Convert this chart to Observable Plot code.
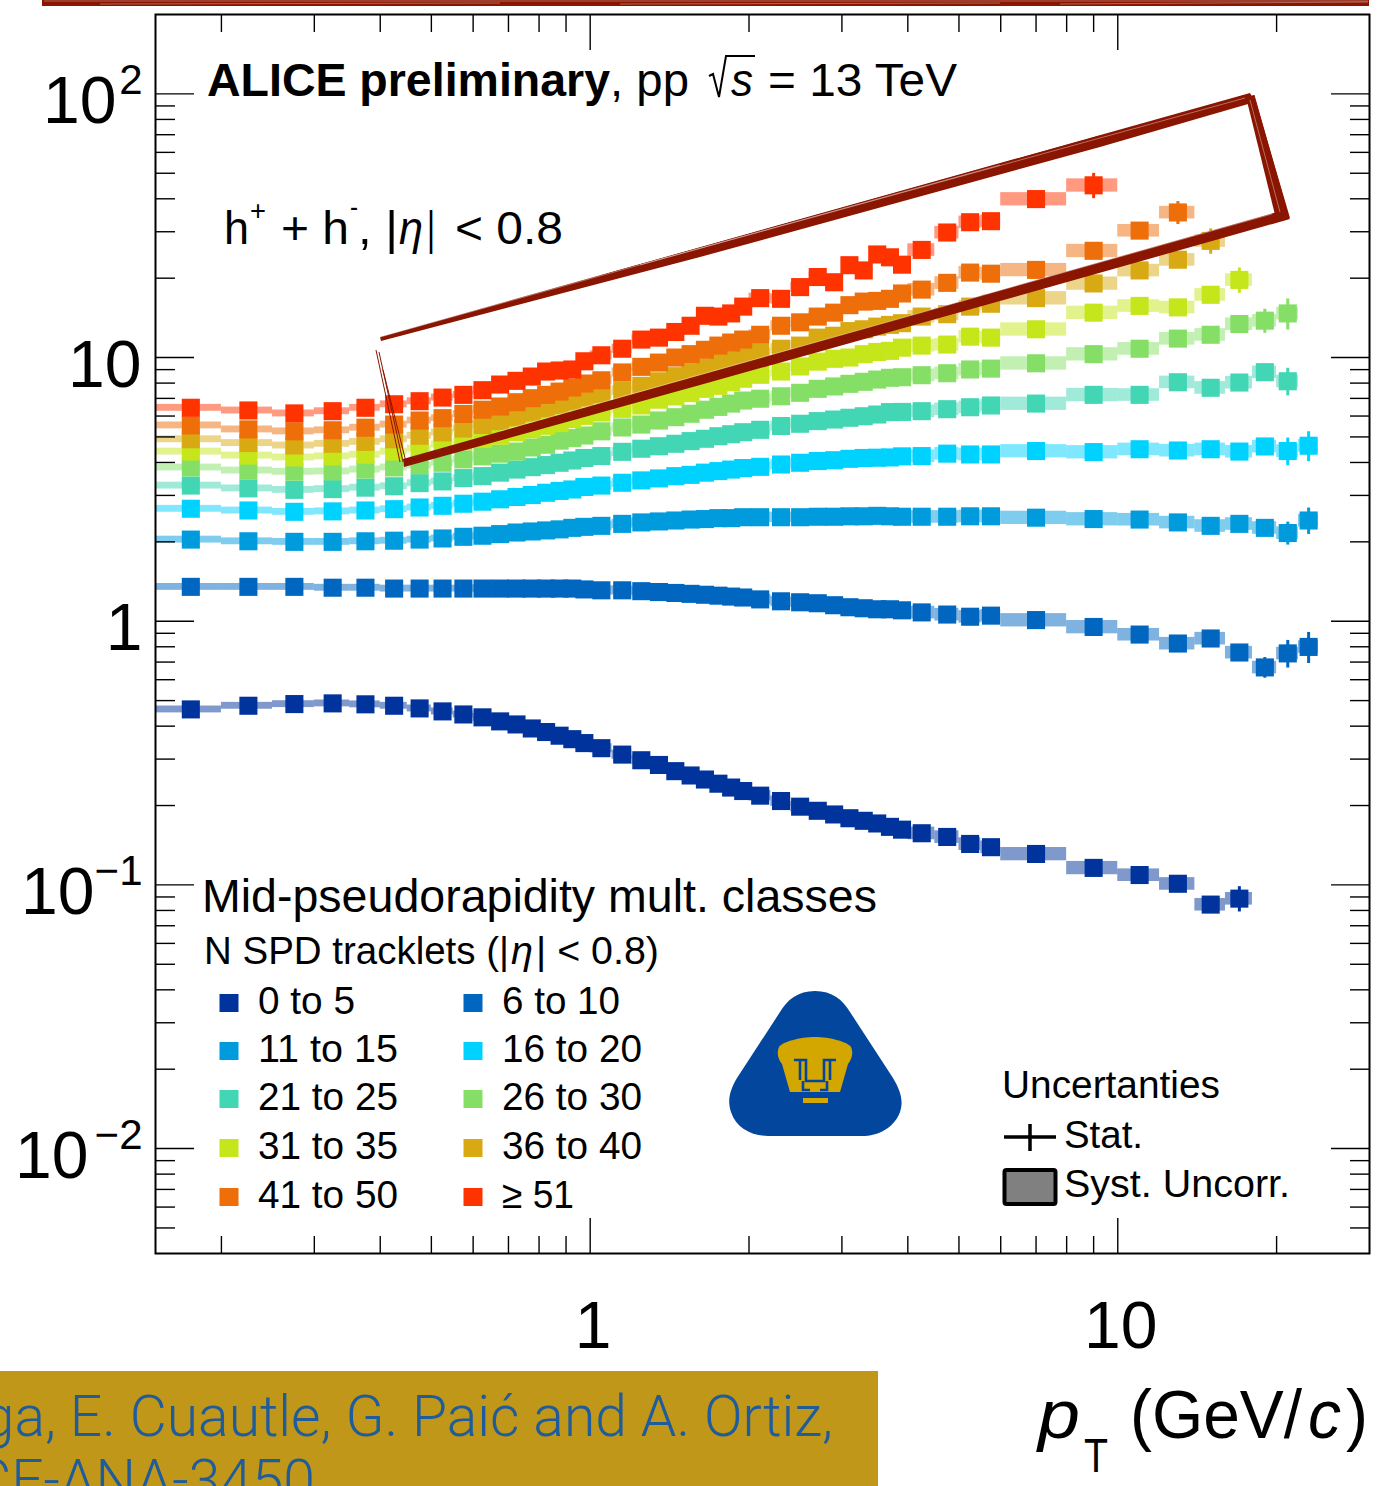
<!DOCTYPE html>
<html><head><meta charset="utf-8">
<style>html,body{margin:0;padding:0;background:#fff}svg{display:block}</style>
<script src="https://cdn.jsdelivr.net/npm/d3@7"></script>
<script src="https://cdn.jsdelivr.net/npm/@observablehq/plot@0.6"></script>
</head><body><div id="chart"></div>
<script>
// ---- data ----
const ptEdges = [0.15,0.2,0.25,0.3,0.35,0.4,0.45,0.5,0.55,0.6,0.65,0.7,0.75,0.8,0.85,0.9,0.95,1.0,1.1,1.2,1.3,1.4,1.5,1.6,1.7,1.8,1.9,2.0,2.2,2.4,2.6,2.8,3.0,3.2,3.4,3.6,3.8,4.0,4.5,5,5.5,6,8,10,12,14,16,18,20,22,24];
const ptCentres = [0.175,0.225,0.275,0.325,0.375,0.425,0.475,0.525,0.575,0.625,0.675,0.725,0.775,0.825,0.875,0.925,0.975,1.05,1.15,1.25,1.35,1.45,1.55,1.65,1.75,1.85,1.95,2.1,2.3,2.5,2.7,2.9,3.1,3.3,3.5,3.7,3.9,4.25,4.75,5.25,5.75,7,9,11,13,15,17,19,21,23];
const systFraction = [0.03,0.03,0.03,0.03,0.03,0.03,0.03,0.03,0.03,0.035,0.035,0.035,0.035,0.035,0.035,0.035,0.035,0.04,0.04,0.04,0.04,0.04,0.04,0.04,0.04,0.04,0.04,0.045,0.045,0.045,0.045,0.045,0.05,0.05,0.05,0.05,0.05,0.055,0.055,0.055,0.055,0.058,0.058,0.055,0.055,0.055,0.055,0.055,0.055,0.055];

const class0to5 = [0.463,0.478,0.485,0.488,0.484,0.478,0.467,0.455,0.443,0.432,0.417,0.406,0.392,0.380,0.368,0.357,0.345,0.330,0.312,0.297,0.285,0.270,0.260,0.251,0.242,0.234,0.227,0.218,0.208,0.198,0.191,0.185,0.179,0.175,0.171,0.166,0.162,0.157,0.152,0.143,0.139,0.131,0.116,0.109,0.101,0.0842,0.0887];
const class6to10 = [1.35,1.35,1.35,1.34,1.34,1.33,1.33,1.33,1.33,1.33,1.33,1.33,1.33,1.33,1.33,1.33,1.32,1.31,1.31,1.30,1.29,1.28,1.27,1.26,1.25,1.24,1.23,1.21,1.19,1.18,1.17,1.15,1.13,1.12,1.11,1.11,1.10,1.08,1.06,1.04,1.05,1.01,0.951,0.890,0.823,0.860,0.761,0.668,0.755,0.799];
const class11to15 = [2.04,2.01,2.00,2.00,2.01,2.02,2.04,2.06,2.09,2.11,2.14,2.17,2.19,2.21,2.23,2.26,2.28,2.30,2.34,2.37,2.39,2.41,2.43,2.44,2.46,2.46,2.48,2.48,2.48,2.48,2.49,2.49,2.50,2.50,2.51,2.50,2.49,2.49,2.49,2.50,2.50,2.47,2.44,2.43,2.37,2.30,2.34,2.26,2.16,2.41];
const class16to20 = [2.67,2.63,2.60,2.61,2.63,2.66,2.70,2.74,2.79,2.84,2.90,2.96,3.01,3.07,3.12,3.16,3.23,3.27,3.35,3.42,3.48,3.55,3.59,3.66,3.71,3.76,3.81,3.85,3.93,3.99,4.05,4.08,4.13,4.16,4.17,4.18,4.22,4.23,4.32,4.29,4.29,4.42,4.38,4.49,4.44,4.49,4.40,4.60,4.42,4.63];
const class21to25 = [3.27,3.19,3.15,3.17,3.21,3.25,3.34,3.39,3.49,3.55,3.66,3.76,3.84,3.91,3.99,4.07,4.16,4.23,4.39,4.51,4.61,4.71,4.82,4.92,5.03,5.12,5.21,5.32,5.50,5.61,5.74,5.82,5.91,5.99,6.08,6.21,6.22,6.26,6.37,6.48,6.58,6.69,7.22,7.22,8.06,7.68,8.04,8.80,8.13];
const class26to30 = [3.83,3.73,3.69,3.70,3.76,3.83,3.90,3.99,4.11,4.22,4.32,4.40,4.56,4.67,4.84,4.95,5.06,5.25,5.43,5.57,5.77,5.94,6.12,6.34,6.50,6.69,6.87,6.98,7.13,7.35,7.61,7.77,7.95,8.09,8.25,8.38,8.42,8.57,8.72,9.01,9.08,9.51,10.3,10.8,11.8,12.2,13.4,13.8,14.7];
const class31to35 = [4.40,4.25,4.18,4.22,4.28,4.40,4.51,4.68,4.81,4.91,5.05,5.21,5.35,5.51,5.64,5.84,6.01,6.19,6.39,6.58,6.92,7.12,7.33,7.61,7.81,8.06,8.31,8.60,8.85,9.25,9.65,9.89,10.0,10.3,10.5,10.6,10.9,11.1,11.2,12.0,11.9,12.8,14.8,15.7,15.5,17.3,19.7];
const class36to40 = [4.90,4.74,4.64,4.71,4.79,4.90,5.05,5.20,5.38,5.55,5.74,5.94,6.19,6.41,6.60,6.81,7.04,7.24,7.50,7.81,8.13,8.50,8.80,9.14,9.55,9.77,10.1,10.4,10.8,11.1,11.9,12.1,12.6,12.8,13.1,13.3,13.5,14.3,14.6,15.6,16.0,16.8,19.1,21.4,23.5,27.7];
const class41to50 = [5.53,5.34,5.25,5.30,5.42,5.57,5.77,5.89,6.11,6.34,6.52,6.77,7.01,7.22,7.43,7.70,7.97,8.20,8.78,9.22,9.57,10.0,10.3,10.7,11.1,11.4,11.7,12.2,13.2,13.6,14.3,14.8,15.8,16.3,16.4,16.7,17.5,18.1,19.2,21.0,20.8,21.5,25.4,30.3,35.5];
const class51up = [6.45,6.30,6.14,6.26,6.45,6.65,6.83,7.05,7.22,7.52,7.90,8.16,8.47,8.85,8.93,9.01,9.68,10.2,10.8,11.7,11.9,12.5,13.2,14.4,14.3,14.7,15.6,16.8,16.7,18.5,20.2,19.3,22.4,21.4,24.6,24.0,22.5,25.6,29.8,32.6,32.9,39.9,45.0];

const classLabels = ["0 to 5","6 to 10","11 to 15","16 to 20","21 to 25","26 to 30","31 to 35","36 to 40","41 to 50","≥ 51"];
const classColors = ["#00349c","#0066bf","#009bdd","#00d2ff","#42d6b5","#85df66","#c5e61a","#d9a913","#ee6e0a","#ff3300"];
const classValues = [class0to5,class6to10,class11to15,class16to20,class21to25,class26to30,class31to35,class36to40,class41to50,class51up];

// last points with visible statistical bars: class index, pT, relative size
const statClass = [9,8,7,6,5,5,4,3,3,2,2,1,1,1,0];
const statPt = [9,13,15,17,19,21,21,21,23,21,23,19,21,23,17];
const statFraction = [0.11,0.10,0.11,0.11,0.105,0.135,0.12,0.12,0.13,0.10,0.115,0.09,0.12,0.135,0.11];

const xMajorTicks = [1,10];
const xMinorTicks = [0.2,0.3,0.4,0.5,0.6,0.7,0.8,0.9,2,3,4,5,6,7,8,9,20];
const xTickLabels = ["1","10"];
const yMajorTicks = [100,10,1,0.1,0.01];
const yMinorTicks = [0.005,0.006,0.007,0.008,0.009,0.02,0.03,0.04,0.05,0.06,0.07,0.08,0.09,0.2,0.3,0.4,0.5,0.6,0.7,0.8,0.9,2,3,4,5,6,7,8,9,20,30,40,50,60,70,80,90];
const yTickBase = ["10","10","1","10","10"];
const yTickExp = ["2","","","−1","−2"];

// ---- rows ----
const rows = classValues.map((vals,c)=>vals.map((v,i)=>({
  series:classLabels[c], pT:ptCentres[i], lo:ptEdges[i], hi:ptEdges[i+1], v,
  y1:v*(1-systFraction[i]), y2:v*(1+systFraction[i])})));
const statRows = statClass.map((c,i)=>{
  const v = classValues[c][ptCentres.indexOf(statPt[i])];
  return {series:classLabels[c], pT:statPt[i], y1:v*(1-statFraction[i]), y2:v*(1+statFraction[i])};
});

const FONT = "'Liberation Sans', Arial, sans-serif";

function annotations(index, scales, values, dimensions) {
  const g = d3.create("svg:g").attr("text-anchor","start");
  const txt = (x,y,s,size,w,o={})=>{
    const e = g.append("text").attr("x",x).attr("y",y).attr("font-family",o.family||FONT)
      .attr("font-size",size).attr("fill",o.fill||"#000").text(s);
    if (w) e.attr("textLength",w).attr("lengthAdjust","spacingAndGlyphs");
    if (o.bold) e.attr("font-weight","bold");
    if (o.italic) e.attr("font-style","italic");
    if (o.anchor) e.attr("text-anchor",o.anchor);
    if (o.weight) e.attr("font-weight",o.weight);
    return e;
  };
  // header
  txt(207,96,"ALICE preliminary",47,403,{bold:true});
  txt(610,96,", pp",46,79);
  g.append("path").attr("d","M709,76 L713,74 L719,97 L726,56 L755,56").attr("fill","none").attr("stroke","#000").attr("stroke-width",2);
  txt(731,96,"s",46,22,{italic:true});
  txt(768,96,"= 13 TeV",46,189);
  // particle line
  txt(224,244,"h",47,25);
  txt(250,220,"+",28,16);
  txt(281,244,"+ h",47,68);
  txt(350,216,"-",28,8);
  txt(358,244,", |",47,40);
  txt(399,244,"η",47,24,{italic:true});
  txt(427,244,"|",47,8);
  txt(455,244,"< 0.8",47,108);
  // legend header
  txt(202,912,"Mid-pseudorapidity mult. classes",47,675);
  txt(204,964,"N SPD tracklets (|",38,305);
  txt(511,964,"η",38,22,{italic:true});
  txt(536,964,"| < 0.8)",38,123);
  // legend items
  const legendRows = [1003,1051,1099,1148,1197];
  const legendCols = [229,473];
  classLabels.forEach((lab,i)=>{
    const cx = legendCols[i%2], cy = legendRows[Math.floor(i/2)];
    g.append("rect").attr("x",cx-9.5).attr("y",cy-9).attr("width",19).attr("height",18).attr("fill",classColors[i]);
    const w = lab==="0 to 5"?97:lab==="6 to 10"?118:lab==="≥ 51"?72:140;
    txt(cx+29,cy+11,lab,39,w);
  });
  // uncertainties box
  txt(1002,1098,"Uncertanties",38,218);
  g.append("path").attr("d","M1004,1137 H1056 M1030,1124 V1151").attr("stroke","#000").attr("stroke-width",3.5).attr("fill","none");
  txt(1064,1148,"Stat.",38,79);
  g.append("rect").attr("x",1004.5).attr("y",1170).attr("width",51).attr("height",34).attr("rx",2)
    .attr("fill","#808080").attr("stroke","#000").attr("stroke-width",4);
  txt(1064,1197,"Syst. Uncorr.",38,226);
  // axis title
  txt(1038,1438,"p",68,42,{italic:true});
  txt(1084,1472,"T",48,24);
  txt(1130,1438,"(GeV/",68,172);
  txt(1308,1438,"c",68,33,{italic:true});
  txt(1346,1438,")",68,22);
  // emblem
  g.append("path").attr("d","M815,991 C832,991 843,1000 850,1012 L893,1078 C900,1090 904,1100 900,1112 C894,1128 878,1136 862,1136 L768,1136 C752,1136 736,1128 731,1112 C727,1100 730,1090 737,1078 L780,1012 C787,1000 798,991 815,991 Z").attr("fill","#02479d");
  g.append("path").attr("d","M779,1047 C782,1042 800,1037 815,1037 C830,1037 848,1042 851,1047 C854,1054 851,1060 848,1064 L840,1092 L790,1092 L782,1064 C779,1060 776,1054 779,1047 Z").attr("fill","#d4a600");
  g.append("path").attr("d","M794,1060 H806 V1081 H824 V1060 H836 M800,1060 V1080 M830,1060 V1080 M803,1081 V1090 H810 M827,1081 V1090 H820").attr("fill","none").attr("stroke","#02479d").attr("stroke-width",2.6);
  g.append("rect").attr("x",803).attr("y",1098).attr("width",25).attr("height",5).attr("fill","#d4a600");
  // hand drawn box
  const red = "#8a1500";
  g.append("path").attr("fill",red).attr("d","M380,337 L1250,93 L1255,102 L1100,147 L700,257 L381,341 Z");
  g.append("path").attr("fill",red).attr("d","M403,459 L1281,211 L1290,219 L1000,301 L700,385 L404,467 Z");
  g.append("path").attr("fill",red).attr("d","M1246,97 L1254,95 L1290,218 L1276,219 Z");
  g.append("path").attr("fill","none").attr("stroke",red).attr("stroke-width",1).attr("d","M376,350 L400,462 M379,352 L403,462 M383,370 L406,462 M440,322 L1000,165 M600,276 L1100,136 M1254,95 L1287,212");
  g.append("path").attr("fill","none").attr("stroke","#fff").attr("stroke-opacity",0.55).attr("stroke-width",0.7)
    .attr("d","M640,265 L1245,98 M500,431 L1272,214 M1250,100 L1280,212 M380,337 L1000,165");
  // top strip
  g.append("rect").attr("x",42).attr("y",0).attr("width",1327).attr("height",6).attr("fill",red);
  g.append("path").attr("fill","none").attr("stroke","#fff").attr("stroke-opacity",0.5).attr("stroke-width",0.7)
    .attr("d","M44,1 H1368 M100,4 L500,3 M620,4 L1000,3 M1060,4 L1368,2");
  // credit banner
  g.append("rect").attr("x",0).attr("y",1371).attr("width",878).attr("height",115).attr("fill","#c09718");
  txt(833,1436,"ga, E. Cuautle, G. Paić and A. Ortiz,",57,null,{anchor:"end",family:"Roboto, sans-serif",weight:300,fill:"#1f5c9c"});
  txt(315,1500,"CE-ANA-3450",57,null,{anchor:"end",family:"Roboto, sans-serif",weight:300,fill:"#1f5c9c"});
  return g.node();
}

const seriesMarks = rows.flatMap(rs=>[
  Plot.rect(rs,{x1:"lo",x2:"hi",y1:"y1",y2:"y2",fill:"series",fillOpacity:0.5}),
  Plot.ruleX(statRows.filter(d=>d.series===rs[0].series),{x:"pT",y1:"y1",y2:"y2",stroke:"series",strokeWidth:3}),
  Plot.dot(rs,{x:"pT",y:"v",fill:"series",symbol:"square",r:10.2})
]);

const supWidth = e => e.length===0?0:e.length===1?26:e==="−2"?54:50;
const baseNudge = (b,e) => b==="1"?2:e==="−1"?4:e==="−2"?2:e?2:1;

const chart = Plot.plot({
  width:1381, height:1486,
  marginLeft:155, marginRight:12, marginTop:14, marginBottom:233,
  style:{fontFamily:FONT, background:"#fff"},
  x:{type:"log", domain:[0.15,30], axis:null},
  y:{type:"log", domain:[0.004,200], axis:null},
  color:{type:"ordinal", domain:classLabels, range:classColors, legend:false},
  marks:[
    ...seriesMarks,
    Plot.axisX({anchor:"bottom",ticks:xMajorTicks,tickSize:-35,tickFormat:()=>"",label:null,strokeWidth:1.4}),
    Plot.axisX({anchor:"bottom",ticks:xMinorTicks,tickSize:-17,tickFormat:()=>"",label:null,strokeWidth:1.4}),
    Plot.axisX({anchor:"top",ticks:xMajorTicks,tickSize:-35,tickFormat:()=>"",label:null,strokeWidth:1.4}),
    Plot.axisX({anchor:"top",ticks:xMinorTicks,tickSize:-17,tickFormat:()=>"",label:null,strokeWidth:1.4}),
    Plot.axisY({anchor:"left",ticks:yMajorTicks,tickSize:-39,tickFormat:()=>"",label:null,strokeWidth:1.4}),
    Plot.axisY({anchor:"left",ticks:yMinorTicks,tickSize:-20,tickFormat:()=>"",label:null,strokeWidth:1.4}),
    Plot.axisY({anchor:"right",ticks:yMajorTicks,tickSize:-39,tickFormat:()=>"",label:null,strokeWidth:1.4}),
    Plot.axisY({anchor:"right",ticks:yMinorTicks,tickSize:-20,tickFormat:()=>"",label:null,strokeWidth:1.4}),
    Plot.frame({stroke:"#000",strokeWidth:2}),
    // tick labels
    Plot.text(xMajorTicks,{x:d=>d,text:(d,i)=>xTickLabels[i],frameAnchor:"bottom",lineAnchor:"bottom",dy:94,dx:3,fontSize:66,fill:"#000"}),
    ...yMajorTicks.map((v,i)=>Plot.text([v],{y:d=>d,text:()=>yTickBase[i],frameAnchor:"left",textAnchor:"end",lineAnchor:"bottom",
      dx:-15-supWidth(yTickExp[i])+baseNudge(yTickBase[i],yTickExp[i]),dy:29,fontSize:66,fill:"#000"})),
    ...yMajorTicks.filter((v,i)=>yTickExp[i]).map((v)=>Plot.text([v],{y:d=>d,text:()=>yTickExp[yMajorTicks.indexOf(v)],frameAnchor:"left",textAnchor:"end",lineAnchor:"bottom",
      dx:-13,dy:0,fontSize:42,fill:"#000"})),
    annotations
  ]
});
document.getElementById("chart").appendChild(chart);
</script></body></html>
